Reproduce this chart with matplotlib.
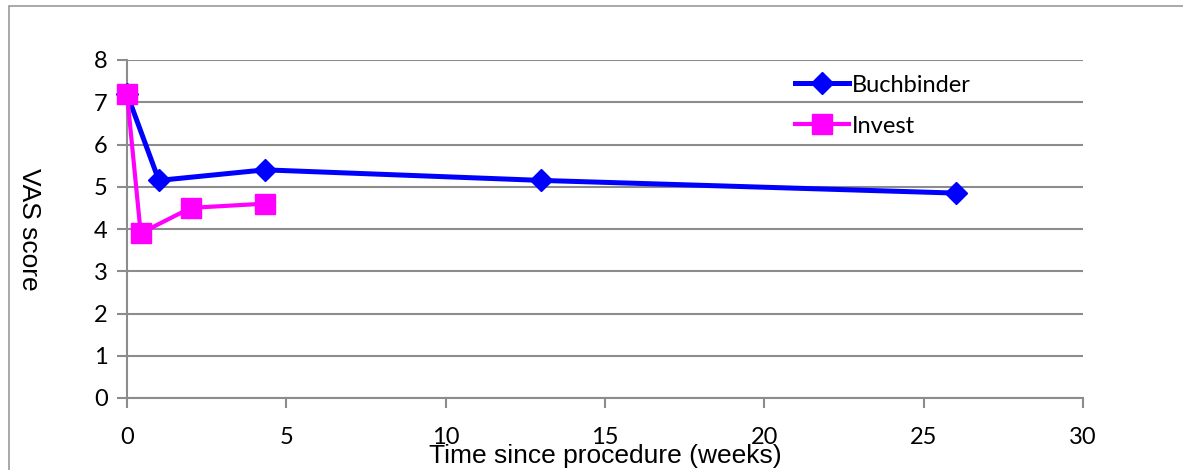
import matplotlib.pyplot as plt
from matplotlib.patches import Rectangle

# data
buchbinder_weeks = [0, 1, 4.33, 13, 26]
buchbinder_vas = [7.2, 5.15, 5.4, 5.15, 4.85]
invest_weeks = [0, 0.43, 2, 4.33]
invest_vas = [7.2, 3.9, 4.5, 4.6]

x_ticks = [0, 5, 10, 15, 20, 25, 30]
y_ticks = [0, 1, 2, 3, 4, 5, 6, 7, 8]

grijs = '#8c8c8c'
tick_font = 'Lato'
label_font = 'Liberation Sans'

fig = plt.figure(figsize=(11.83, 4.70), dpi=100)
ax = fig.add_axes([127 / 1183, 1 - 398 / 470, (1083 - 127) / 1183, (398 - 60) / 470])

# kader rond de figuur (loopt door buiten beeld rechts en onder)
fig.patches.append(Rectangle((9 / 1183, -0.1), 1.2, 1 - 6 / 470 + 0.1,
                             transform=fig.transFigure, fill=False,
                             edgecolor='#999999', linewidth=1.2))

ax.plot(buchbinder_weeks, buchbinder_vas, color='#0000ff', linewidth=3.6,
        marker='D', markersize=11, label='Buchbinder', zorder=3, clip_on=False)
ax.plot(invest_weeks, invest_vas, color='#ff00ff', linewidth=3.0,
        marker='s', markersize=14, label='Invest', zorder=4, clip_on=False)

ax.set_xlim(0, 30)
ax.set_ylim(0, 8)
ax.set_xticks(x_ticks)
ax.set_yticks(y_ticks)
ax.yaxis.grid(True, color=grijs, linewidth=1.5)
ax.set_axisbelow(True)

for side in ['top', 'right']:
    ax.spines[side].set_visible(False)
for side in ['left', 'bottom']:
    ax.spines[side].set_color(grijs)
    ax.spines[side].set_linewidth(1.5)
ax.tick_params(axis='both', direction='out', color=grijs, width=1.5, length=7)
ax.tick_params(axis='x', pad=14)
ax.tick_params(axis='y', pad=7)
for lbl in ax.get_xticklabels() + ax.get_yticklabels():
    lbl.set_fontfamily(tick_font)
    lbl.set_fontsize(17)

ax.set_xlabel('Time since procedure (weeks)', fontfamily=label_font, fontsize=19, labelpad=-3)
ax.set_ylabel('VAS score', fontfamily=label_font, fontsize=19, labelpad=55, rotation=270,
              va='bottom')

leg = ax.legend(loc='upper left', bbox_to_anchor=(0.689, 0.985), frameon=False,
                prop={'family': tick_font, 'size': 17}, handlelength=2.3,
                handletextpad=0.1, labelspacing=0.85, borderaxespad=0)

fig.savefig('out.png', dpi=100)
